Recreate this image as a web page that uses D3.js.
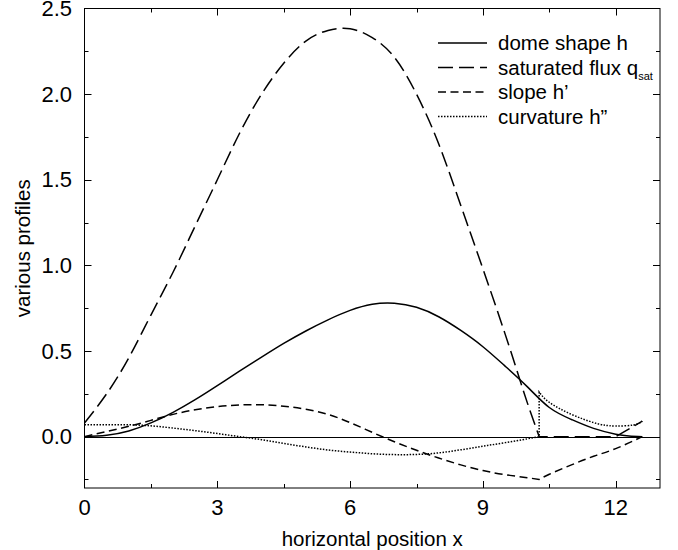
<!DOCTYPE html>
<html>
<head>
<meta charset="utf-8">
<script src="https://cdn.jsdelivr.net/npm/d3@7"></script>
<style>
  body { margin: 0; background: #fff; }
  text { font-family: "Liberation Sans", Arial, sans-serif; fill: #000; }
</style>
</head>
<body>
<script>
var width = 678,
    height = 550;

// dome shape h
var domeX = [0, 0.5, 1, 1.5, 2, 2.5, 3, 3.5, 4, 4.5, 5, 5.5, 6, 6.5, 7, 7.5, 8, 8.5, 9, 9.5, 10, 10.5, 11, 11.5, 12, 12.3, 12.6];
var domeY = [0, 0.008, 0.033, 0.08, 0.142, 0.216, 0.298, 0.382, 0.464, 0.544, 0.617, 0.682, 0.737, 0.773, 0.779, 0.755, 0.7, 0.62, 0.525, 0.412, 0.292, 0.17, 0.1, 0.048, 0.014, 0.004, 0];

// saturated flux q_sat
var fluxX = [0, 0.5, 1, 1.5, 2, 2.5, 3, 3.5, 4, 4.5, 5, 5.5, 6, 6.5, 7, 7.5, 8, 8.5, 9, 9.5, 9.8, 10, 10.27, 12.0, 12.6];
var fluxY = [0.08, 0.25, 0.46, 0.71, 0.96, 1.23, 1.5, 1.77, 2.0, 2.18, 2.31, 2.372, 2.382, 2.33, 2.215, 2.0, 1.71, 1.35, 0.98, 0.6, 0.36, 0.2, 0, 0, 0.09];
var fluxKinks = [10.27, 12.0];

// slope h'
var slopeX = [0, 0.5, 1, 1.5, 2, 2.5, 3, 3.5, 4, 4.5, 5, 5.5, 6, 6.5, 7, 7.5, 8, 8.5, 9, 9.5, 10, 10.27, 10.5, 11, 11.5, 12, 12.6];
var slopeY = [0, 0.03, 0.06, 0.095, 0.13, 0.157, 0.175, 0.185, 0.186, 0.178, 0.16, 0.13, 0.082, 0.025, -0.03, -0.08, -0.125, -0.165, -0.198, -0.222, -0.24, -0.25, -0.22, -0.165, -0.115, -0.07, 0];
var slopeKinks = [10.27];

// curvature h''
var curvX = [0, 0.5, 1, 1.5, 2, 2.5, 3, 3.5, 4, 4.5, 5, 5.5, 6, 6.5, 7, 7.5, 8, 8.5, 9, 9.5, 10, 10.27, 10.27, 10.5, 11, 11.5, 11.75, 12, 12.4, 12.6];
var curvY = [0.07, 0.07, 0.069, 0.063, 0.05, 0.035, 0.018, 0, -0.018, -0.04, -0.06, -0.078, -0.09, -0.1, -0.105, -0.104, -0.095, -0.077, -0.056, -0.035, -0.013, 0, 0.26, 0.2, 0.13, 0.082, 0.067, 0.062, 0.068, 0.09];
var curvKinks = [10.27];

var xTicks = [0, 3, 6, 9, 12];
var xMinor = [1.5, 4.5, 7.5, 10.5];
var yTicks = [0, 0.5, 1.0, 1.5, 2.0, 2.5];
var yMinor = [-0.25, 0.25, 0.75, 1.25, 1.75, 2.25];

var x = d3.scaleLinear().domain([0, 13]).range([84.5, 660]);
var y = d3.scaleLinear().domain([-0.3, 2.5]).range([488, 8.5]);

var svg = d3.select("body").append("svg")
    .attr("width", width)
    .attr("height", height);

// zero line
svg.append("line")
    .attr("x1", x(0)).attr("x2", x(13))
    .attr("y1", Math.round(y(0)) + 0.5).attr("y2", Math.round(y(0)) + 0.5)
    .attr("stroke", "#000").attr("stroke-width", 1);

var line = d3.line()
    .x(function(d) { return x(d[0]); })
    .y(function(d) { return y(d[1]); })
    .curve(d3.curveNatural);

// split a series at its kinks (and vertical jumps) so corners stay sharp
function pathFor(xs, ys, kinks) {
  var pieces = [], cur = [];
  xs.forEach(function(v, i) {
    var p = [v, ys[i]];
    if (cur.length && v == xs[i - 1]) {
      pieces.push(cur);
      cur = [p];
      return;
    }
    cur.push(p);
    if (kinks.indexOf(v) != -1 && i < xs.length - 1 && xs[i + 1] != v) {
      pieces.push(cur);
      cur = [p];
    }
  });
  pieces.push(cur);
  return pieces.map(function(pc, k) {
    var s = line(pc);
    return k == 0 ? s : "L" + s.slice(1);
  }).join("");
}

var series = [
  { xs: domeX, ys: domeY, kinks: [], dash: null, label: "dome shape h" },
  { xs: fluxX, ys: fluxY, kinks: fluxKinks, dash: "15,6", label: "saturated flux q" },
  { xs: slopeX, ys: slopeY, kinks: slopeKinks, dash: "8,4.5", label: "slope h\u2019" },
  { xs: curvX, ys: curvY, kinks: curvKinks, dash: "1.5,1.5", label: "curvature h\u201d" }
];

svg.selectAll("path.curve")
    .data(series)
  .enter().append("path")
    .attr("class", "curve")
    .attr("d", function(d) { return pathFor(d.xs, d.ys, d.kinks); })
    .attr("fill", "none")
    .attr("stroke", "#000")
    .attr("stroke-width", 1.5)
    .attr("stroke-dasharray", function(d) { return d.dash; });

// frame
var fx0 = x(0), fx1 = x(13), fy0 = y(2.5), fy1 = y(-0.3);
svg.append("rect")
    .attr("x", fx0).attr("y", fy0)
    .attr("width", fx1 - fx0).attr("height", fy1 - fy0)
    .attr("fill", "none").attr("stroke", "#000").attr("stroke-width", 1);

// ticks, pointing inward on all four sides
function vTicks(vals, len) {
  vals.forEach(function(v) {
    var yy = Math.round(y(v)) + 0.5;
    svg.append("line").attr("x1", fx0).attr("x2", fx0 + len)
        .attr("y1", yy).attr("y2", yy).attr("stroke", "#000");
    svg.append("line").attr("x1", fx1).attr("x2", fx1 - len)
        .attr("y1", yy).attr("y2", yy).attr("stroke", "#000");
  });
}
function hTicks(vals, len) {
  vals.forEach(function(v) {
    var xx = Math.round(x(v)) + 0.5;
    svg.append("line").attr("y1", fy1).attr("y2", fy1 - len)
        .attr("x1", xx).attr("x2", xx).attr("stroke", "#000");
    svg.append("line").attr("y1", fy0).attr("y2", fy0 + len)
        .attr("x1", xx).attr("x2", xx).attr("stroke", "#000");
  });
}
vTicks(yTicks.filter(function(v) { return v > 0 && v < 2.5; }), 7);
vTicks(yMinor, 4);
hTicks(xTicks.filter(function(v) { return v > 0; }), 7);
hTicks(xMinor, 4);

svg.selectAll("text.ylab")
    .data(yTicks)
  .enter().append("text")
    .attr("class", "ylab")
    .attr("x", 72)
    .attr("y", function(d) { return y(d); })
    .attr("dy", "0.35em")
    .attr("text-anchor", "end")
    .style("font-size", "22px")
    .text(function(d) { return d3.format(".1f")(d); });

svg.selectAll("text.xlab")
    .data(xTicks)
  .enter().append("text")
    .attr("class", "xlab")
    .attr("x", function(d) { return x(d); })
    .attr("y", 515)
    .attr("text-anchor", "middle")
    .style("font-size", "22px")
    .text(function(d) { return d; });

svg.append("text")
    .attr("x", (fx0 + fx1) / 2)
    .attr("y", 546)
    .attr("text-anchor", "middle")
    .style("font-size", "20.5px")
    .text("horizontal position x");

svg.append("text")
    .attr("transform", "translate(30," + ((fy0 + fy1) / 2) + ") rotate(-90)")
    .attr("text-anchor", "middle")
    .style("font-size", "20.5px")
    .text("various profiles");

// legend
var leg = svg.append("g").attr("transform", "translate(438,43)");
var row = leg.selectAll("g")
    .data(series)
  .enter().append("g")
    .attr("transform", function(d, i) { return "translate(0," + (i * 24.5) + ")"; });
row.append("line")
    .attr("x1", 0).attr("x2", 49)
    .attr("stroke", "#000").attr("stroke-width", 1.5)
    .attr("stroke-dasharray", function(d) { return d.dash; });
var lt = row.append("text")
    .attr("x", 60)
    .attr("dy", "0.36em")
    .style("font-size", "20.5px")
    .text(function(d) { return d.label; });
lt.filter(function(d, i) { return i == 1; })
  .append("tspan")
    .attr("dy", "5")
    .style("font-size", "11px")
    .text("sat");
</script>
</body>
</html>
